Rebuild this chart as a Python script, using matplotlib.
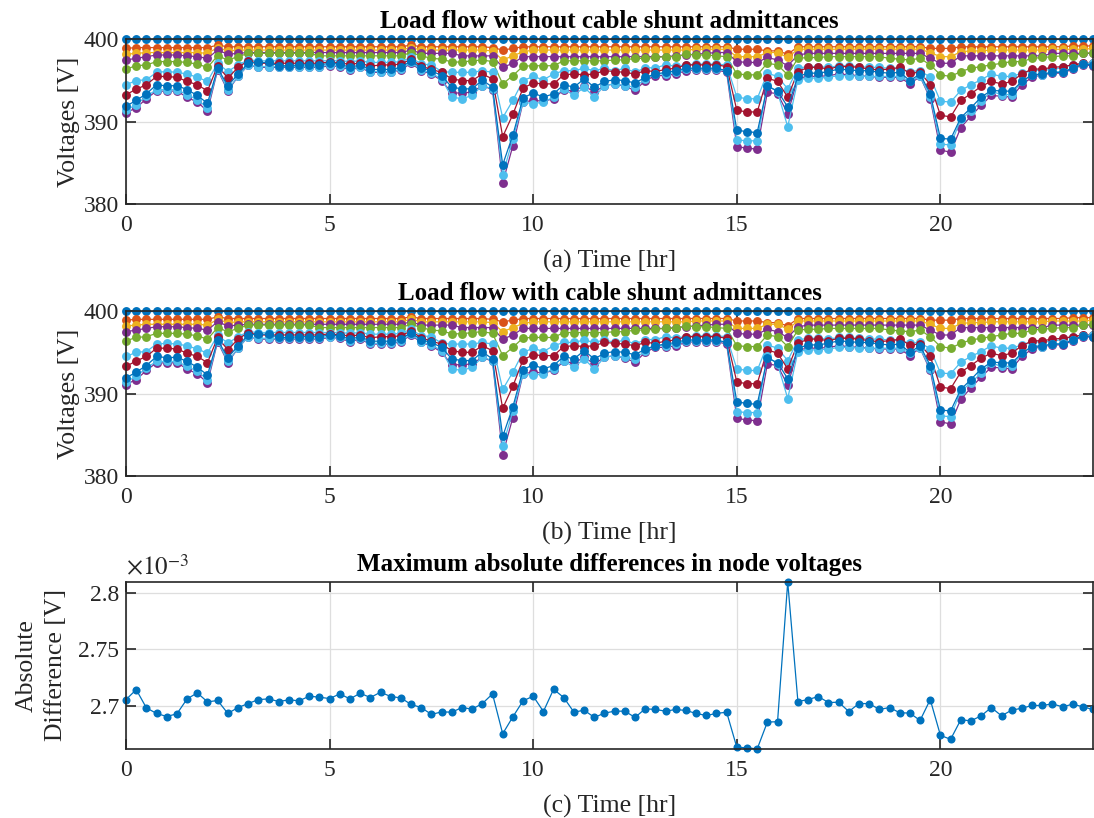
import numpy as np
import matplotlib
matplotlib.use("Agg")
import matplotlib.pyplot as plt
from matplotlib.ticker import FormatStrFormatter

plt.rcParams['font.family'] = ['Liberation Serif', 'DejaVu Serif']
plt.rcParams['mathtext.fontset'] = 'stix'

# ---------------- data ----------------
time_hr = np.arange(96) * 0.25

V_slack = [400.0] * 96

V_orange = [398.9,399.0,399.0,399.0,399.0,399.0,399.0,399.0,399.0,399.3,
            399.1,399.1,399.1,399.1,399.1,399.1,399.1,399.1,399.1,399.1,
            399.1,399.1,399.1,399.1,399.1,399.1,399.1,399.1,399.3,399.1,
            399.1,399.1,399.1,399.1,399.1,399.1,399.0,398.7,398.9,399.1,
            399.1,399.1,399.1,399.1,399.1,399.1,399.1,399.1,399.1,399.1,
            399.1,399.1,399.1,399.1,399.1,399.1,399.1,399.1,399.1,399.1,
            398.8,398.8,398.8,398.6,398.6,398.2,399.1,399.1,399.1,399.1,
            399.1,399.1,399.1,399.1,399.1,399.1,399.1,399.1,399.1,398.9,
            398.9,398.9,399.1,399.1,399.1,399.1,399.1,399.1,399.1,399.1,
            399.1,399.1,399.1,399.2,399.2,399.2]

V_yellow = [398.2,398.3,398.4,398.4,398.4,398.4,398.4,398.4,398.3,399.0,
            398.6,398.7,398.7,398.7,398.7,398.7,398.7,398.7,398.7,398.7,
            398.7,398.7,398.7,398.7,398.7,398.7,398.7,398.7,399.0,398.7,
            398.7,398.7,398.7,398.7,398.7,398.7,398.6,397.5,398.0,398.5,
            398.7,398.7,398.7,398.7,398.7,398.7,398.7,398.7,398.7,398.7,
            398.7,398.7,398.7,398.7,398.7,398.7,398.8,398.8,398.8,398.8,
            397.9,397.9,397.9,398.4,398.4,397.8,398.8,398.8,398.8,398.8,
            398.8,398.8,398.8,398.8,398.8,398.8,398.8,398.8,398.8,398.4,
            397.9,397.9,398.5,398.6,398.6,398.7,398.7,398.7,398.7,398.7,
            398.7,398.8,398.8,398.8,398.8,398.9]

V_purple1 = [397.5,397.7,397.9,398.1,398.1,398.1,398.0,397.9,397.7,398.7,
             398.2,398.3,398.4,398.4,398.4,398.4,398.4,398.4,398.4,398.4,
             398.4,398.4,398.4,398.4,398.4,398.4,398.4,398.4,398.7,398.3,
             398.3,398.3,398.3,398.0,398.0,398.0,398.0,396.6,397.1,397.9,
             397.9,397.9,397.9,397.9,397.9,397.9,397.9,397.9,397.9,397.9,
             397.9,397.9,397.9,397.9,398.0,398.1,398.2,398.3,398.4,398.4,
             397.3,397.2,397.2,397.8,397.5,396.8,398.1,398.3,398.3,398.3,
             398.3,398.3,398.3,398.3,398.3,398.3,398.3,398.3,398.3,397.7,
             397.1,397.1,398.0,398.0,398.0,398.0,398.0,398.0,398.0,398.0,
             398.0,398.3,398.3,398.3,398.3,398.3]

V_green = [396.4,396.8,396.9,397.3,397.3,397.3,397.2,397.0,396.6,398.0,
           397.5,397.9,398.3,398.3,398.3,398.3,398.3,398.3,398.3,398.0,
           398.0,398.0,398.0,398.0,398.0,398.0,398.0,398.0,398.4,398.0,
           397.7,397.6,397.25,397.25,397.4,397.5,397.3,394.6,395.6,396.75,
           396.8,396.8,396.8,397.4,397.4,397.4,397.4,397.4,397.5,397.5,
           397.7,397.7,397.8,397.9,397.9,398.2,398.1,398.1,398.0,397.9,
           395.8,395.7,395.7,397.1,396.9,395.7,397.7,397.8,397.8,397.9,
           397.9,397.9,397.9,397.9,397.9,397.7,397.6,397.5,397.7,396.9,
           395.7,395.5,396.1,396.5,396.7,396.9,397.1,397.3,397.3,397.7,
           397.8,397.9,398.0,398.0,398.3,398.4]

V_lightblue1 = [394.5,395.0,395.1,396.0,396.1,396.0,395.8,395.4,394.9,397.1,
                396.1,396.9,397.5,397.4,397.4,397.4,397.4,397.4,397.4,397.4,
                397.4,397.4,397.3,397.4,397.2,397.2,397.2,397.3,397.8,397.0,
                396.9,396.1,396.0,396.0,396.0,396.2,396.0,390.5,392.6,395.0,
                395.5,395.1,395.8,396.2,396.2,396.5,396.2,396.5,396.2,396.5,
                396.0,396.55,396.55,396.9,396.75,396.9,397.0,397.0,397.0,396.9,
                393.0,392.8,392.8,395.9,395.5,394.0,396.5,396.7,396.7,396.6,
                396.8,396.8,396.7,396.6,396.6,396.5,396.4,396.1,396.2,395.4,
                392.5,392.4,393.8,394.5,395.1,395.8,395.5,395.5,395.9,396.2,
                396.3,396.3,396.6,396.9,397.1,397.1]

V_red = [393.3,393.95,394.5,395.5,395.5,395.4,394.9,394.5,393.75,396.8,
         395.3,396.6,397.4,397.1,397.1,397.1,397.1,397.1,397.1,397.1,
         397.25,397.1,397.0,397.1,396.75,396.9,396.9,397.0,397.6,396.75,
         396.35,396.0,395.2,395.0,395.0,395.8,395.2,388.2,390.9,394.1,
         394.7,394.6,394.6,395.7,395.8,395.7,395.8,396.2,396.1,396.0,
         395.8,396.2,396.1,396.35,396.5,396.9,396.9,396.9,396.9,396.7,
         391.4,391.2,391.2,395.3,394.9,393.0,396.1,396.6,396.6,396.4,
         396.7,396.7,396.6,396.4,396.3,396.4,396.6,395.9,396.0,394.5,
         390.8,390.6,392.6,393.4,394.3,394.9,394.6,394.9,395.8,396.4,
         396.4,396.6,396.7,396.9,397.1,397.1]

V_blue2 = [391.9,392.6,393.4,394.5,394.35,394.4,393.9,393.2,392.25,396.5,
           394.35,395.8,397.1,397.2,397.2,396.8,396.8,396.9,396.9,396.9,
           397.1,397.0,396.6,396.9,396.35,396.35,396.35,396.6,397.4,396.5,
           396.2,395.6,394.2,394.0,394.0,395.06,394.2,384.8,388.4,392.9,
           393.5,393.0,393.4,394.5,394.2,395.2,394.2,394.9,395.1,395.0,
           394.7,395.4,395.8,396.0,396.2,396.5,396.5,396.5,396.5,396.2,
           389.0,388.8,388.7,394.3,393.75,391.8,395.5,395.9,395.9,396.1,
           396.4,396.3,396.2,396.2,396.0,395.9,396.0,395.0,395.8,393.4,
           388.0,387.9,390.5,391.7,393.0,393.8,393.75,393.7,394.9,395.7,
           395.8,396.0,396.0,396.5,397.0,396.9]

V_lightblue2 = [391.4,392.1,393.1,393.9,393.9,393.9,393.3,392.7,391.7,396.4,
                393.9,395.5,396.9,396.7,396.7,396.7,396.7,396.7,396.7,396.7,
                396.9,396.8,396.4,396.7,396.1,396.1,396.1,396.4,397.2,396.3,
                395.9,395.2,393.0,392.8,393.2,394.4,394.0,383.6,387.9,392.4,
                392.2,392.4,393.0,394.0,393.2,394.2,393.0,394.4,394.6,394.4,
                394.2,395.2,395.8,395.8,396.0,396.35,396.4,396.4,396.4,396.2,
                387.8,387.7,387.7,394.5,393.6,389.4,395.1,395.3,395.3,395.4,
                395.6,395.6,395.5,395.5,395.5,395.5,395.5,394.9,395.5,393.0,
                387.3,387.2,390.3,391.3,392.5,393.7,393.3,393.3,394.9,395.7,
                395.7,396.0,396.1,396.5,397.0,397.1]

V_purple2 = [391.1,391.7,392.8,393.75,393.7,393.75,392.96,392.4,391.3,396.3,
             393.75,395.5,396.9,396.6,396.6,396.6,396.6,396.6,396.6,396.6,
             396.8,396.7,396.3,396.6,396.0,396.0,396.0,396.3,397.1,396.2,
             395.8,395.0,393.5,393.5,393.6,394.4,393.9,382.6,387.1,392.4,
             392.6,392.5,392.8,393.9,393.7,394.4,393.6,394.4,394.6,394.3,
             393.8,395.0,395.6,395.6,395.8,396.2,396.3,396.3,396.3,396.0,
             387.0,386.8,386.7,393.6,393.4,391.0,395.3,395.5,395.5,395.6,
             395.8,395.7,395.6,395.5,395.4,395.4,395.4,394.6,395.5,392.8,
             386.6,386.3,389.3,390.7,392.0,393.2,393.1,393.0,394.5,395.4,
             395.7,395.9,395.9,396.4,396.9,396.8]

# maximum absolute difference, in units of 1e-3 V
max_diff_e3 = [2.7058,2.7146,2.6985,2.6936,2.6909,2.6933,2.7064,2.7117,2.7038,2.7050,
               2.6936,2.6988,2.7023,2.7058,2.7064,2.7041,2.7056,2.7047,2.7088,2.7079,
               2.7067,2.7108,2.7064,2.7114,2.7076,2.7123,2.7085,2.7073,2.7015,2.6988,
               2.6927,2.6950,2.6947,2.6988,2.6974,2.7023,2.7108,2.6757,2.6906,2.7047,
               2.7088,2.6953,2.7149,2.7076,2.6947,2.6965,2.6901,2.6939,2.6956,2.6956,
               2.6901,2.6977,2.6971,2.6956,2.6971,2.6962,2.6936,2.6918,2.6936,2.6947,
               2.6637,2.6634,2.6623,2.6860,2.6863,2.8094,2.7041,2.7058,2.7085,2.7032,
               2.7035,2.6953,2.7023,2.7023,2.6971,2.6988,2.6942,2.6939,2.6874,2.7058,
               2.6743,2.6708,2.6880,2.6871,2.6915,2.6988,2.6915,2.6965,2.6982,2.7006,
               2.7006,2.7020,2.6994,2.7018,2.6994,2.6971]

series = [
    (V_slack, '#0072BD'),
    (V_orange, '#D95319'),
    (V_yellow, '#EDB120'),
    (V_purple1, '#7E2F8E'),
    (V_green, '#77AC30'),
    (V_lightblue1, '#4DBEEE'),
    (V_red, '#A2142F'),
    (V_purple2, '#7E2F8E'),
    (V_lightblue2, '#4DBEEE'),
    (V_blue2, '#0072BD'),
]

x_ticks = [0, 5, 10, 15, 20]
v_ticks = [380, 390, 400]
diff_ticks = [2.7, 2.75, 2.8]

# ---------------- style ----------------
AX_COL = '#262626'
GRID_COL = '#dedede'
TICK_FS = 17
LAB_FS = 18.5
TITLE_FS = 18

fig = plt.figure(figsize=(10.94, 8.18), dpi=100)
left, width = 0.1152, 0.884
ax1 = fig.add_axes([left, 0.7502, width, 0.2017])
ax2 = fig.add_axes([left, 0.4180, width, 0.2017])
ax3 = fig.add_axes([left, 0.0844, width, 0.2041])


def style(ax):
    ax.set_axisbelow(True)
    ax.grid(True, color=GRID_COL, linewidth=0.9)
    for s in ax.spines.values():
        s.set_color(AX_COL)
        s.set_linewidth(1.2)
    ax.tick_params(direction='in', length=7, width=1.2, top=True, right=True,
                   labelsize=TICK_FS, colors=AX_COL)
    ax.tick_params(axis='x', pad=8)
    ax.tick_params(axis='y', pad=5)
    ax.set_xlim(time_hr[0], time_hr[-1])
    ax.set_xticks(x_ticks)


for ax, title, xl in [(ax1, 'Load flow without cable shunt admittances', '(a) Time [hr]'),
                      (ax2, 'Load flow with cable shunt admittances', '(b) Time [hr]')]:
    style(ax)
    for vals, col in series:
        ax.plot(time_hr, vals, '-o', color=col, lw=0.9, ms=6.4, mew=0,
                clip_on=False)
    ax.set_ylim(380, 400)
    ax.set_yticks(v_ticks)
    ax.set_title(title, fontsize=TITLE_FS, fontweight='bold', pad=8, color='black')
    ax.set_xlabel(xl, fontsize=LAB_FS, labelpad=10, color=AX_COL)
    ax.set_ylabel('Voltages [V]', fontsize=LAB_FS, labelpad=3, color=AX_COL)

style(ax3)
ax3.plot(time_hr, max_diff_e3, '-o', color='#0072BD', lw=0.9, ms=5.8, mew=0,
         clip_on=False)
ax3.set_ylim(min(max_diff_e3), max(max_diff_e3))
ax3.set_yticks(diff_ticks)
ax3.yaxis.set_major_formatter(FormatStrFormatter('%g'))
ax3.set_title('Maximum absolute differences in node voltages', fontsize=TITLE_FS,
              fontweight='bold', pad=8, color='black')
ax3.set_xlabel('(c) Time [hr]', fontsize=LAB_FS, labelpad=10, color=AX_COL)
ax3.set_ylabel('Absolute\nDifference [V]', fontsize=LAB_FS, labelpad=8,
               color=AX_COL, linespacing=1.4)
ax3.text(0.0, 1.01, r'$\times 10^{-3}$', transform=ax3.transAxes,
         fontsize=TICK_FS + 1, color=AX_COL, ha='left', va='bottom')

fig.savefig('out.png', dpi=100)
